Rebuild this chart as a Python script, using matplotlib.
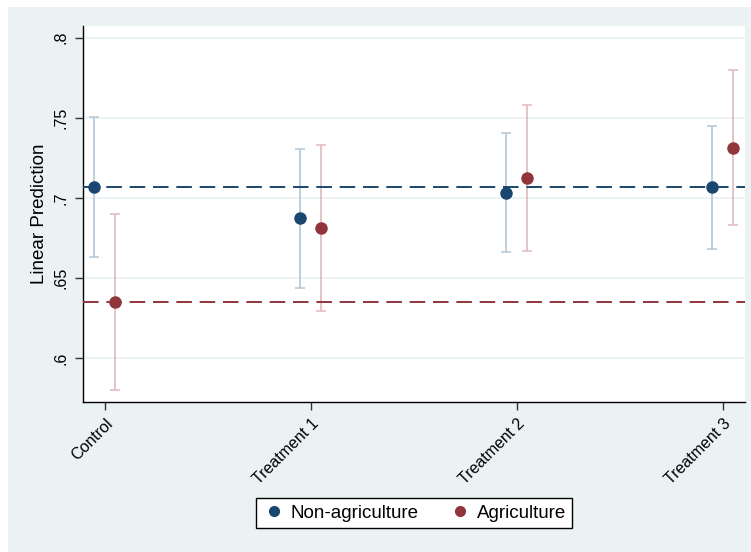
import numpy as np
import matplotlib
matplotlib.use("Agg")
import matplotlib.pyplot as plt
from matplotlib.patches import Rectangle
from matplotlib.lines import Line2D

plt.rcParams['font.family'] = ['Liberation Sans', 'DejaVu Sans']

groups = ["Control", "Treatment 1", "Treatment 2", "Treatment 3"]

# margins for non-agriculture households
nonag_est = [0.7067, 0.6873, 0.7029, 0.7065]
nonag_lo = [0.6633, 0.6437, 0.6660, 0.6683]
nonag_hi = [0.7504, 0.7308, 0.7402, 0.7446]

# margins for agriculture households
ag_est = [0.6350, 0.6811, 0.7121, 0.7314]
ag_lo = [0.5802, 0.6294, 0.6667, 0.6829]
ag_hi = [0.6896, 0.7327, 0.7577, 0.7800]

yticks = [0.6, 0.65, 0.7, 0.75, 0.8]
ytick_labels = [".6", ".65", ".7", ".75", ".8"]

navy = "#1a476f"
maroon = "#90353b"
navy_ci = "#b4c6d6"
maroon_ci = "#deb9bc"
bg = "#eaf2f3"

fig = plt.figure(figsize=(7.51, 5.52), dpi=100)
fig.patch.set_facecolor("white")
fig.patches.append(Rectangle((8 / 751, 0), 1, 1 - 7 / 552, transform=fig.transFigure,
                             facecolor=bg, edgecolor="none", zorder=-10))

ax = fig.add_axes([82.7 / 751, 1 - 402 / 552, (745 - 82.7) / 751, (402 - 26) / 552])
ax.set_facecolor("white")

x = np.arange(len(groups))
off = 0.051

for i in range(len(groups)):
    ax.errorbar(x[i] - off, nonag_est[i],
                yerr=[[nonag_est[i] - nonag_lo[i]], [nonag_hi[i] - nonag_est[i]]],
                fmt="none", ecolor=navy_ci, elinewidth=1.2, capsize=3.8, capthick=1.1, zorder=3)
    ax.errorbar(x[i] + off, ag_est[i],
                yerr=[[ag_est[i] - ag_lo[i]], [ag_hi[i] - ag_est[i]]],
                fmt="none", ecolor=maroon_ci, elinewidth=1.2, capsize=3.8, capthick=1.1, zorder=3)

# reference lines at the control group means
ax.axhline(nonag_est[0], color=navy, lw=1.4, ls=(0, (8, 4)), zorder=4)
ax.axhline(ag_est[0], color=maroon, lw=1.4, ls=(0, (8, 4)), zorder=4)

ax.plot(x - off, nonag_est, "o", color=navy, ms=8, ls="none", zorder=5)
ax.plot(x + off, ag_est, "o", color=maroon, ms=8, ls="none", zorder=5)

ax.set_xlim(-0.108, 3.107)
ax.set_ylim(0.5725, 0.8073)
ax.set_yticks(yticks)
ax.set_yticklabels(ytick_labels, rotation=90, va="center", fontsize=11.5)
ax.set_xticks(x)
ax.set_xticklabels(groups, rotation=45, ha="right", va="top", rotation_mode="anchor", fontsize=11.5)
ax.tick_params(axis="both", length=6, width=1, color="#333333", pad=4)
ax.grid(axis="y", color=bg, lw=1.3, zorder=0)
ax.set_axisbelow(True)
for side in ["top", "right"]:
    ax.spines[side].set_visible(False)
for side in ["left", "bottom"]:
    ax.spines[side].set_color("black")
    ax.spines[side].set_linewidth(1)
ax.set_ylabel("Linear Prediction", fontsize=13.5, labelpad=4)

handles = [Line2D([], [], marker="o", color=navy, ls="none", ms=7),
           Line2D([], [], marker="o", color=maroon, ls="none", ms=7)]
leg = fig.legend(handles, ["Non-agriculture", "Agriculture"], loc="center",
                 bbox_to_anchor=(414 / 751, 1 - 513 / 552), ncol=2, fontsize=13.5,
                 frameon=True, fancybox=False, edgecolor="black", framealpha=1,
                 handletextpad=0.3, columnspacing=1.6, handlelength=1.2,
                 borderpad=0.35)
leg.get_frame().set_linewidth(1)

fig.savefig("out.png", dpi=100, facecolor=fig.get_facecolor())
